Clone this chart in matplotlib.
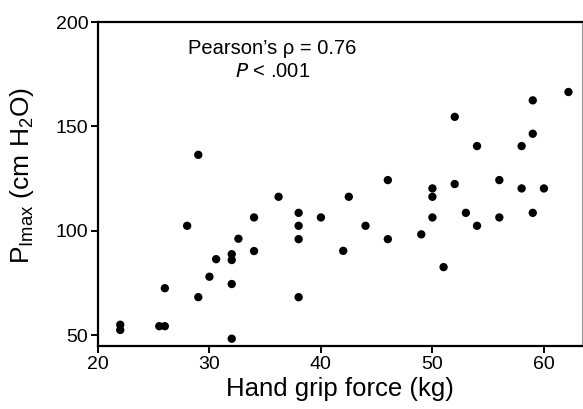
import matplotlib
matplotlib.use("Agg")
import matplotlib.pyplot as plt

# Hand grip force (kg) vs PImax (cm H2O)
gripForce = [22, 22, 25.5, 26, 26, 28, 29, 29, 30, 30.6,
             32, 32, 32, 32, 32.6, 34, 34, 36.2, 38, 38,
             38, 38, 40, 42, 42.5, 44, 46, 46, 49, 50,
             50, 50, 51, 52, 52, 53, 54, 54, 56, 56,
             58, 58, 59, 59, 59, 60, 62.2]
pImax = [55, 52.5, 54.3, 54.3, 72.5, 102.4, 68.2, 136.4, 78, 86.4,
         88.8, 86, 74.5, 48.3, 96.2, 106.4, 90.3, 116.3, 108.6, 102.4,
         96, 68.2, 106.4, 90.4, 116.3, 102.4, 124.3, 96, 98.3, 120.3,
         116.3, 106.4, 82.6, 122.4, 154.6, 108.6, 140.6, 102.4, 124.3, 106.4,
         140.6, 120.3, 162.5, 146.5, 108.6, 120.3, 166.5]

xTicks = [20, 30, 40, 50, 60]
yTicks = [50, 100, 150, 200]

plt.rcParams['font.family'] = ['Liberation Sans', 'DejaVu Sans']
plt.rcParams['mathtext.default'] = 'regular'

fig = plt.figure(figsize=(5.83, 4.09), dpi=100)
ax = fig.add_axes([0.168, 0.154, 0.83, 0.792])

ax.scatter(gripForce, pImax, s=36, color="black", edgecolors="none", zorder=3)

ax.set_xlim(20, 63.4)
ax.set_ylim(44.8, 200)
ax.set_xticks(xTicks)
ax.set_yticks(yTicks)

for side in ["left", "bottom", "top"]:
    ax.spines[side].set_linewidth(1.6)
ax.spines["right"].set_linewidth(0.8)
ax.spines["right"].set_color("#999999")

ax.tick_params(axis="both", direction="out", length=5, width=1.4, labelsize=14, pad=2)
ax.tick_params(axis="x", top=False)
ax.tick_params(axis="y", right=False)

ax.set_xlabel("Hand grip force (kg)", fontsize=18.5, labelpad=3)
ax.set_ylabel(r"P$_{Imax}$ (cm H$_{2}$O)", fontsize=19)
ax.yaxis.set_label_coords(-0.128, 0.528)

ax.text(0.36, 0.92, "Pearson\u2019s \u03c1 = 0.76", transform=ax.transAxes,
        ha="center", va="center", fontsize=14.5)
ax.text(0.36, 0.846, r"$\it{P}$ < .001", transform=ax.transAxes,
        ha="center", va="center", fontsize=14.5)

fig.savefig("out.png", dpi=100)
